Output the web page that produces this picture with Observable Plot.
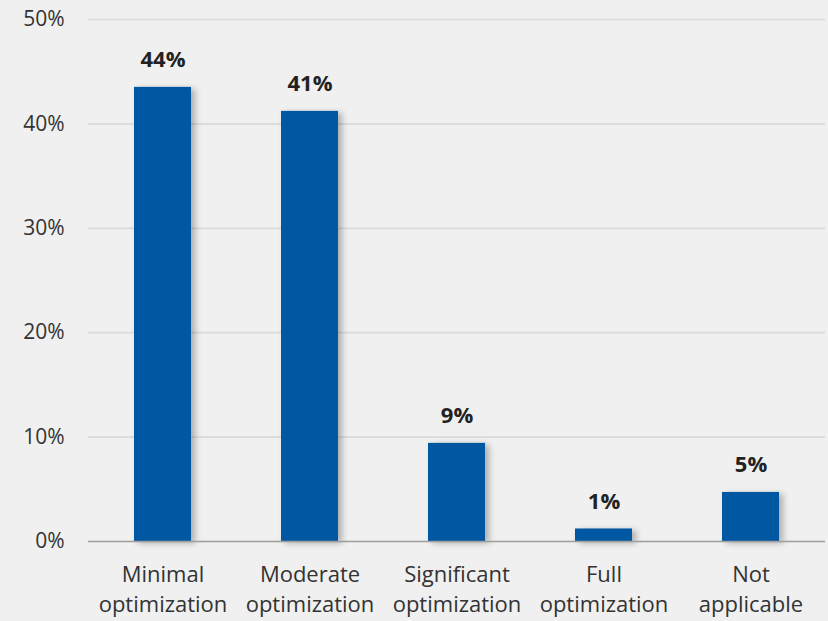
<!DOCTYPE html>
<html>
<head>
<meta charset="utf-8">
<script src="https://cdn.jsdelivr.net/npm/d3@7"></script>
<script src="https://cdn.jsdelivr.net/npm/@observablehq/plot@0.6"></script>
<style>
  html, body { margin: 0; padding: 0; background: #f0f0f0; }
  #chart svg { display: block; background: #f0f0f0; }
</style>
</head>
<body>
<div id="chart"></div>
<script>
// Share of respondents by level of optimization
const categories = [
  "Minimal\noptimization",
  "Moderate\noptimization",
  "Significant\noptimization",
  "Full\noptimization",
  "Not\napplicable"
];
const shares = [0.435, 0.412, 0.094, 0.012, 0.047];
const yTicks = [0, 0.1, 0.2, 0.3, 0.4, 0.5];

const data = categories.map((c, i) => ({category: c, share: shares[i]}));
const pct = d3.format(".0%");

const chart = Plot.plot({
  width: 828,
  height: 621,
  marginLeft: 88,
  marginRight: 3,
  marginTop: 19,
  marginBottom: 80,
  style: {fontFamily: "'Open Sans', sans-serif", background: "#f0f0f0", color: "#222"},
  x: {domain: categories, paddingInner: 0.615, paddingOuter: 0.3075, label: null},
  y: {domain: [0, 0.5], label: null},
  marks: [
    Plot.gridY(yTicks, {stroke: "#dadada", strokeOpacity: 1, strokeWidth: 1.7}),
    Plot.axisY(yTicks, {
      tickSize: 0, tickPadding: 24, tickFormat: pct, fontSize: 21, fill: "#333", label: null
    }),
    Plot.barY(data, {x: "category", y: "share", fill: "#0057a2"}),
    Plot.ruleY([0], {stroke: "#a0a0a0", strokeWidth: 1.6}),
    Plot.text(data, {
      x: "category", y: "share", text: d => pct(d.share),
      dy: -27, fontSize: 22, fontWeight: "bold", fill: "#222"
    }),
    Plot.axisX({
      tickSize: 0, tickPadding: 19, fontSize: 22, lineHeight: 1.36, fill: "#333", label: null
    })
  ]
});

// soft shadow beside each bar
d3.select(chart).selectAll("g[aria-label='bar']")
  .style("filter", "drop-shadow(4px 2px 3px rgba(0,0,0,0.28))");

document.getElementById("chart").appendChild(chart);
</script>
</body>
</html>
